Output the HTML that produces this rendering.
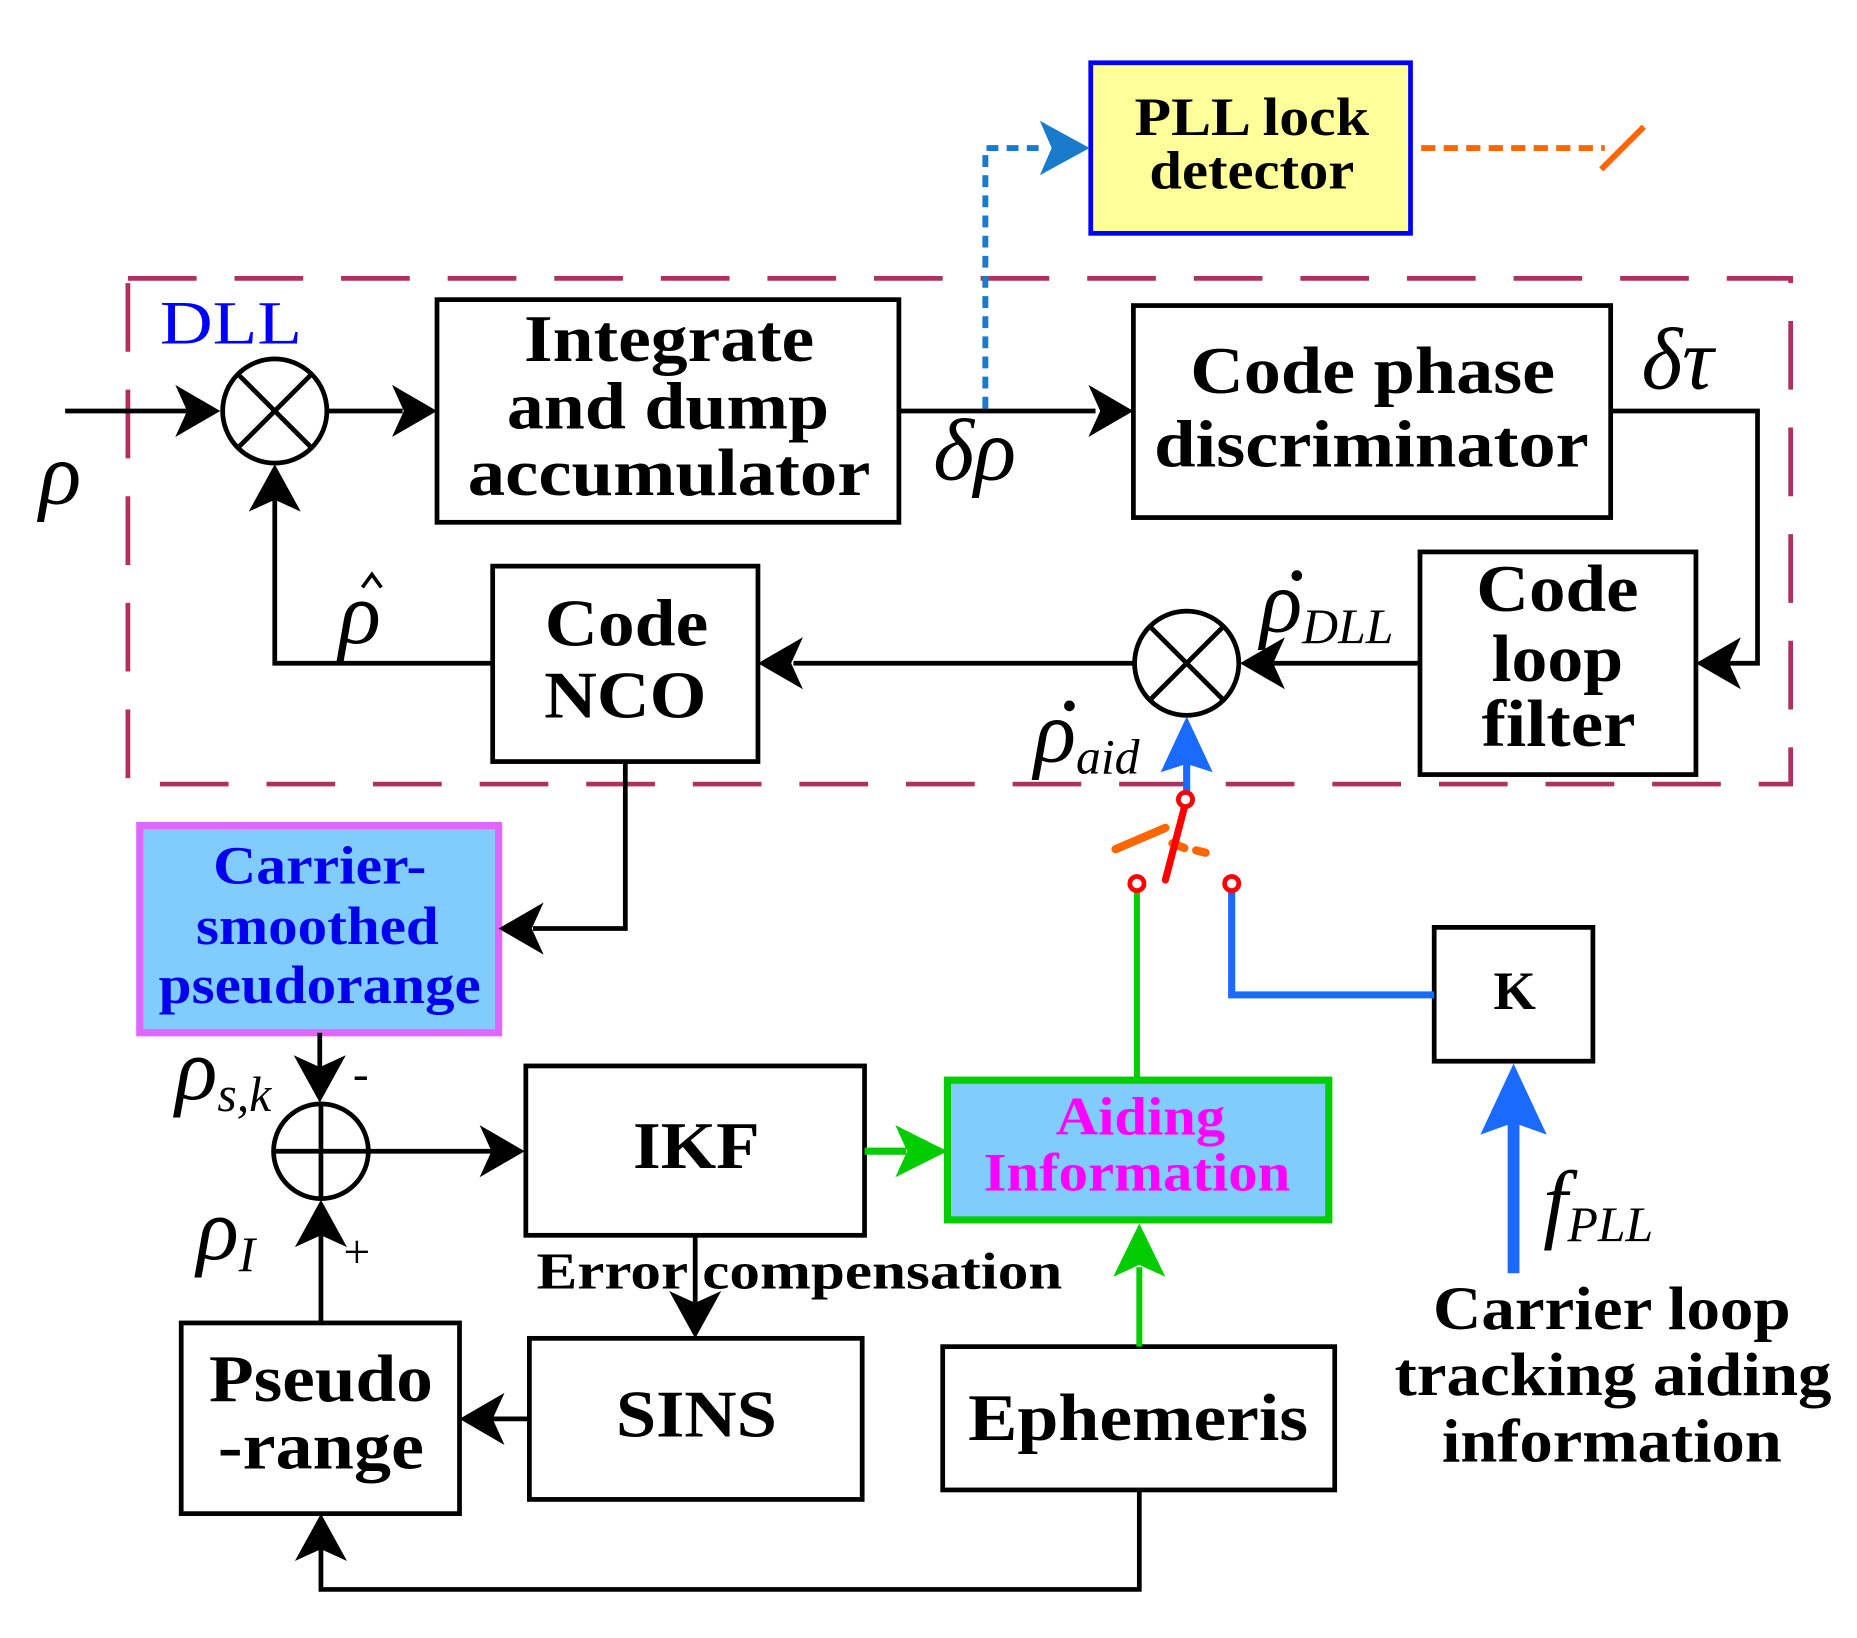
<!DOCTYPE html>
<html><head><meta charset="utf-8"><style>html,body{margin:0;padding:0;background:#fff}svg{display:block}</style></head>
<body>
<svg width="1857" height="1638" viewBox="0 0 1568 1383" preserveAspectRatio="none" xmlns="http://www.w3.org/2000/svg" font-family="Liberation Serif, serif">
<rect width="1568" height="1383" fill="#fff"/>
<rect x="108" y="235" width="1404" height="427" fill="none" stroke="#b03060" stroke-width="4" stroke-dasharray="58,32"/>
<text x="135" y="290" font-size="52" fill="#0000ff" textLength="120" lengthAdjust="spacingAndGlyphs">DLL</text>

<rect x="921" y="53" width="270" height="144" fill="#ffff99" stroke="#0000ff" stroke-width="4"/>
<g font-size="46" font-weight="bold" text-anchor="middle">
<text x="1057" y="114" textLength="198" lengthAdjust="spacingAndGlyphs">PLL lock</text>
<text x="1057" y="159" textLength="173" lengthAdjust="spacingAndGlyphs">detector</text>
</g>
<line x1="1200" y1="125" x2="1355" y2="125" stroke="#ff6600" stroke-width="5" stroke-dasharray="12,7"/>
<line x1="1352" y1="143" x2="1388" y2="107" stroke="#ff6600" stroke-width="5"/>
<polyline points="832,345 832,125 880,125" fill="none" stroke="#1a7acc" stroke-width="5" stroke-dasharray="10,7"/>
<polygon points="920,125 878,102 888,125 878,148" fill="#1a7acc"/>

<g stroke="#000" stroke-width="4" fill="#fff">
<rect x="369" y="253" width="390" height="188"/>
<rect x="957" y="258" width="403" height="179"/>
<rect x="1199" y="466" width="233" height="188"/>
<rect x="416" y="478" width="224" height="165"/>
<rect x="444" y="900" width="286" height="143"/>
<rect x="447" y="1130" width="281" height="136"/>
<rect x="153" y="1117" width="235" height="161"/>
<rect x="796" y="1137" width="331" height="121"/>
<rect x="1211" y="783" width="134" height="113"/>
</g>
<rect x="118" y="697" width="303" height="175" fill="#80ccff" stroke="#e066ff" stroke-width="6"/>
<rect x="800" y="912" width="322" height="118" fill="#80ccff" stroke="#00cc00" stroke-width="6"/>

<g font-weight="bold" font-size="56" text-anchor="middle">
<text x="565" y="305" textLength="245" lengthAdjust="spacingAndGlyphs">Integrate</text>
<text x="564" y="362" textLength="272" lengthAdjust="spacingAndGlyphs">and dump</text>
<text x="565" y="418" textLength="340" lengthAdjust="spacingAndGlyphs">accumulator</text>
<text x="1159" y="332" textLength="308" lengthAdjust="spacingAndGlyphs">Code phase</text>
<text x="1158" y="394" textLength="367" lengthAdjust="spacingAndGlyphs">discriminator</text>
<text x="1315" y="516" textLength="137" lengthAdjust="spacingAndGlyphs">Code</text>
<text x="1315" y="575" textLength="111" lengthAdjust="spacingAndGlyphs">loop</text>
<text x="1316" y="630" textLength="130" lengthAdjust="spacingAndGlyphs">filter</text>
<text x="529" y="545" textLength="138" lengthAdjust="spacingAndGlyphs">Code</text>
<text x="528" y="606" textLength="137" lengthAdjust="spacingAndGlyphs">NCO</text>
<text x="588" y="986" textLength="107" lengthAdjust="spacingAndGlyphs">IKF</text>
<text x="588" y="1213" textLength="136" lengthAdjust="spacingAndGlyphs">SINS</text>
<text x="271" y="1183" textLength="189" lengthAdjust="spacingAndGlyphs">Pseudo</text>
<text x="271" y="1240" textLength="174" lengthAdjust="spacingAndGlyphs">-range</text>
<text x="961" y="1216" textLength="287" lengthAdjust="spacingAndGlyphs">Ephemeris</text>
<text x="1279" y="852" font-size="46">K</text>
</g>
<g font-weight="bold" font-size="46" text-anchor="middle" fill="#0000ee">
<text x="270" y="746" textLength="180" lengthAdjust="spacingAndGlyphs">Carrier-</text>
<text x="268" y="797" textLength="205" lengthAdjust="spacingAndGlyphs">smoothed</text>
<text x="270" y="847" textLength="272" lengthAdjust="spacingAndGlyphs">pseudorange</text>
</g>
<g font-weight="bold" font-size="46" text-anchor="middle" fill="#ff00ff">
<text x="963" y="958" textLength="143" lengthAdjust="spacingAndGlyphs">Aiding</text>
<text x="960" y="1005" textLength="259" lengthAdjust="spacingAndGlyphs">Information</text>
</g>
<g font-weight="bold" font-size="52" text-anchor="middle">
<text x="1361" y="1122" textLength="302" lengthAdjust="spacingAndGlyphs">Carrier loop</text>
<text x="1362" y="1178" textLength="369" lengthAdjust="spacingAndGlyphs">tracking aiding</text>
<text x="1361" y="1234" textLength="287" lengthAdjust="spacingAndGlyphs">information</text>
</g>
<text x="453" y="1088" font-size="44" font-weight="bold" textLength="444" lengthAdjust="spacingAndGlyphs">Error  compensation</text>

<g font-style="italic" font-size="74">
<text x="33" y="425">ρ</text>
<text x="788" y="405">δρ</text>
<text x="1386" y="328">δτ</text>
<text x="286" y="543">ρ</text>
<text x="1064" y="533">ρ<tspan font-size="42" dy="10">DLL</tspan></text>
<text x="873" y="643">ρ<tspan font-size="42" dy="10">aid</tspan></text>
<text x="148" y="928">ρ<tspan font-size="42" dy="10">s,k</tspan></text>
<text x="166" y="1063">ρ<tspan font-size="42" dy="10">I</tspan></text>
</g>
<text x="1303" y="1040" font-style="italic" font-size="74">f<tspan font-size="42" dy="8">PLL</tspan></text>
<polyline points="306,496 314,485 322,496" fill="none" stroke="#000" stroke-width="3"/>
<circle cx="1095" cy="486" r="4.5"/>
<circle cx="903" cy="596" r="4.5"/>
<text x="298" y="920" font-size="40">-</text>
<text x="290" y="1070" font-size="40">+</text>

<g stroke="#000" stroke-width="4" fill="none">
<line x1="55" y1="347" x2="160" y2="347"/>
<line x1="277" y1="347" x2="340" y2="347"/>
<line x1="759" y1="347" x2="925" y2="347"/>
<polyline points="1360,347 1484,347 1484,560 1460,560"/>
<line x1="1199" y1="560" x2="1075" y2="560"/>
<line x1="957" y1="560" x2="670" y2="560"/>
<polyline points="416,560 232,560 232,420"/>
<polyline points="528,643 528,784 450,784"/>
<line x1="270" y1="872" x2="270" y2="905"/>
<line x1="312" y1="972" x2="415" y2="972"/>
<line x1="587" y1="1043" x2="587" y2="1100"/>
<line x1="447" y1="1198" x2="415" y2="1198"/>
<line x1="271" y1="1117" x2="271" y2="1040"/>
<polyline points="962,1258 962,1342 271,1342 271,1305"/>
<circle cx="232" cy="347" r="44"/>
<line x1="201" y1="316" x2="263" y2="378"/><line x1="263" y1="316" x2="201" y2="378"/>
<circle cx="1002" cy="560" r="44"/>
<line x1="971" y1="529" x2="1033" y2="591"/><line x1="1033" y1="529" x2="971" y2="591"/>
<circle cx="271" cy="972" r="40"/>
<line x1="231" y1="972" x2="312" y2="972"/><line x1="271" y1="932" x2="271" y2="1012"/>
</g>
<g fill="#000">
<polygon points="186,347 148,325 158,347 148,369"/>
<polygon points="369,347 331,325 341,347 331,369"/>
<polygon points="957,347 919,325 929,347 919,369"/>
<polygon points="1432,560 1470,538 1460,560 1470,582"/>
<polygon points="1047,560 1085,538 1075,560 1085,582"/>
<polygon points="640,560 678,538 668,560 678,582"/>
<polygon points="232,392 210,432 232,422 254,432"/>
<polygon points="421,784 459,762 449,784 459,806"/>
<polygon points="270,931 248,891 270,901 292,891"/>
<polygon points="443,972 405,950 415,972 405,994"/>
<polygon points="587,1130 565,1090 587,1100 609,1090"/>
<polygon points="388,1198 426,1176 416,1198 426,1220"/>
<polygon points="271,1013 249,1053 271,1043 293,1053"/>
<polygon points="271,1278 249,1318 271,1308 293,1318"/>
</g>

<line x1="730" y1="972" x2="765" y2="972" stroke="#00cc00" stroke-width="6"/>
<polygon points="800,972 756,950 766,972 756,994" fill="#00cc00"/>
<line x1="962" y1="1137" x2="962" y2="1070" stroke="#00cc00" stroke-width="5"/>
<polygon points="962,1033 940,1078 962,1068 984,1078" fill="#00cc00"/>
<line x1="960" y1="750" x2="960" y2="912" stroke="#00cc00" stroke-width="5"/>

<line x1="1002" y1="672" x2="1002" y2="640" stroke="#1a6aff" stroke-width="6"/>
<polygon points="1002,605 980,652 1002,645 1024,652" fill="#1a6aff"/>
<polyline points="1040,750 1040,840 1211,840" fill="none" stroke="#1a6aff" stroke-width="6"/>
<line x1="1278" y1="1075" x2="1278" y2="945" stroke="#1a6aff" stroke-width="10"/>
<polygon points="1278,898 1250,958 1278,948 1306,958" fill="#1a6aff"/>

<line x1="942" y1="717" x2="984" y2="699" stroke="#ff6600" stroke-width="7" stroke-linecap="round"/>
<line x1="990" y1="712" x2="1000" y2="716" stroke="#ff6600" stroke-width="7" stroke-linecap="round"/>
<line x1="1010" y1="718" x2="1018" y2="720" stroke="#ff6600" stroke-width="7" stroke-linecap="round"/>
<line x1="1000" y1="682" x2="984" y2="743" stroke="#ff0000" stroke-width="6" stroke-linecap="round"/>
<g fill="#fff" stroke="#ff0000" stroke-width="4">
<circle cx="1001" cy="675" r="6"/>
<circle cx="960" cy="746" r="6"/>
<circle cx="1040" cy="746" r="6"/>
</g>
</svg>
</body></html>
